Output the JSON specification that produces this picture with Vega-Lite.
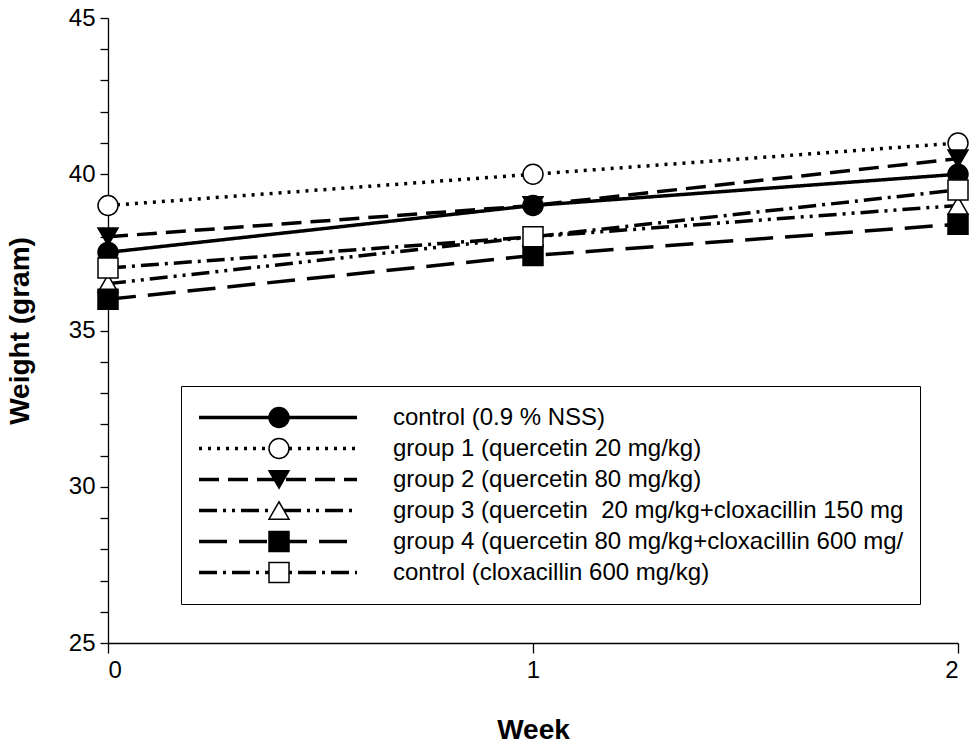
{
  "$schema": "https://vega.github.io/schema/vega-lite/v6.json",
  "width": 850,
  "height": 625,
  "autosize": "none",
  "padding": {"left": 108, "top": 18, "right": 13, "bottom": 106},
  "background": "white",
  "config": {
    "view": {"stroke": null},
    "font": "Liberation Sans",
    "axis": {"labelFont": "Liberation Sans", "titleFont": "Liberation Sans", "labelColor": "black", "titleColor": "black", "domainColor": "black", "tickColor": "black", "grid": false, "domainWidth": 1.3, "tickWidth": 1.3},
    "legend": {"labelFont": "Liberation Sans", "titleFont": "Liberation Sans"}
  },
  "data": {
    "values": [
      {"week": 0, "weight": 37.5, "order": 1, "series": "control (0.9 % NSS)"},
      {"week": 1, "weight": 39.0, "order": 1, "series": "control (0.9 % NSS)"},
      {"week": 2, "weight": 40.0, "order": 1, "series": "control (0.9 % NSS)"},
      {"week": 0, "weight": 39.0, "order": 2, "series": "group 1 (quercetin 20 mg/kg)"},
      {"week": 1, "weight": 40.0, "order": 2, "series": "group 1 (quercetin 20 mg/kg)"},
      {"week": 2, "weight": 41.0, "order": 2, "series": "group 1 (quercetin 20 mg/kg)"},
      {"week": 0, "weight": 38.0, "order": 3, "series": "group 2 (quercetin 80 mg/kg)"},
      {"week": 1, "weight": 39.0, "order": 3, "series": "group 2 (quercetin 80 mg/kg)"},
      {"week": 2, "weight": 40.5, "order": 3, "series": "group 2 (quercetin 80 mg/kg)"},
      {"week": 0, "weight": 36.5, "order": 4, "series": "group 3 (quercetin \u00a020 mg/kg+cloxacillin 150 mg"},
      {"week": 1, "weight": 38.0, "order": 4, "series": "group 3 (quercetin \u00a020 mg/kg+cloxacillin 150 mg"},
      {"week": 2, "weight": 39.0, "order": 4, "series": "group 3 (quercetin \u00a020 mg/kg+cloxacillin 150 mg"},
      {"week": 0, "weight": 36.0, "order": 5, "series": "group 4 (quercetin 80 mg/kg+cloxacillin 600 mg/"},
      {"week": 1, "weight": 37.4, "order": 5, "series": "group 4 (quercetin 80 mg/kg+cloxacillin 600 mg/"},
      {"week": 2, "weight": 38.4, "order": 5, "series": "group 4 (quercetin 80 mg/kg+cloxacillin 600 mg/"},
      {"week": 0, "weight": 37.0, "order": 6, "series": "control (cloxacillin 600 mg/kg)"},
      {"week": 1, "weight": 38.0, "order": 6, "series": "control (cloxacillin 600 mg/kg)"},
      {"week": 2, "weight": 39.5, "order": 6, "series": "control (cloxacillin 600 mg/kg)"}
    ]
  },
  "encoding": {
    "x": {
      "field": "week", "type": "quantitative",
      "scale": {"domain": [0, 2], "nice": false, "zero": false},
      "axis": {"title": "Week", "tickCount": 2, "labelOverlap": false, "format": "d", "tickSize": 10, "labelPadding": 5, "labelFontSize": 24, "titleFontSize": 28, "titleFontWeight": "bold", "titlePadding": 34}
    },
    "y": {
      "field": "weight", "type": "quantitative",
      "scale": {"domain": [25, 45], "nice": false, "zero": false},
      "axis": {"title": "Weight (gram)", "values": [25,26,27,28,29,30,31,32,33,34,35,36,37,38,39,40,41,42,43,44,45], "format": "d", "labelOverlap": false, "labelExpr": "datum.value % 5 === 0 ? datum.label : ''", "tickSize": 8, "labelPadding": 5, "labelFontSize": 24, "titleFontSize": 28, "titleFontWeight": "bold", "titlePadding": 34}
    }
  },
  "layer": [
    {
      "mark": {"type": "line", "color": "black", "strokeWidth": 3.5, "strokeCap": "butt"},
      "encoding": {
        "strokeDash": {
          "field": "series", "type": "nominal",
          "sort": {"field": "order", "op": "max"},
          "scale": {
            "range": [[1, 0], [3, 6], [20, 9], [18, 6, 3, 6, 3, 6], [28, 12], [18, 6, 3, 6]]
          },
          "legend": {
            "orient": "none", "legendX": 73, "legendY": 368, "title": null, "zindex": 1,
            "symbolType": "stroke", "symbolSize": 24964, "symbolStrokeWidth": 3.5, "symbolStrokeColor": "black",
            "labelFontSize": 24, "labelColor": "black", "labelOffset": 34, "labelLimit": 700,
            "padding": 16, "strokeColor": "black",
            "clipHeight": 31, "rowPadding": 0
          }
        }
      }
    },
    {
      "mark": {"type": "point", "filled": true, "stroke": "black", "strokeWidth": 1.5, "opacity": 1},
      "encoding": {
        "shape": {
          "field": "series", "type": "nominal",
          "sort": {"field": "order", "op": "min"},
          "scale": {
            "range": ["circle", "circle", "triangle-down", "triangle-up", "square", "square"]
          },
          "legend": {
            "orient": "none", "legendX": 143, "legendY": 368, "title": null, "zindex": 2,
            "symbolSize": 256, "symbolStrokeWidth": 1.5, "symbolOpacity": 1,
            "labelExpr": "''", "labelFontSize": 24, "padding": 16, "clipHeight": 31, "rowPadding": 0,
            "encode": {"symbols": {"stroke": {"value": "black"}, "strokeWidth": {"value": 1.5}}}
          }
        },
        "color": {
          "field": "series", "type": "nominal",
          "sort": {"field": "order", "op": "min"},
          "scale": {
            "range": ["black", "white", "black", "white", "black", "white"]
          },
          "legend": {
            "orient": "none", "legendX": 143, "legendY": 368, "title": null, "zindex": 2,
            "symbolSize": 256, "symbolStrokeWidth": 1.5, "symbolOpacity": 1,
            "labelExpr": "''", "labelFontSize": 24, "padding": 16, "clipHeight": 31, "rowPadding": 0,
            "encode": {"symbols": {"stroke": {"value": "black"}, "strokeWidth": {"value": 1.5}}}
          }
        },
        "size": {
          "field": "series", "type": "nominal",
          "sort": {"field": "order", "op": "min"},
          "scale": {
            "range": [400, 400, 400, 400, 290, 290]
          },
          "legend": null
        }
      }
    }
  ]
}
